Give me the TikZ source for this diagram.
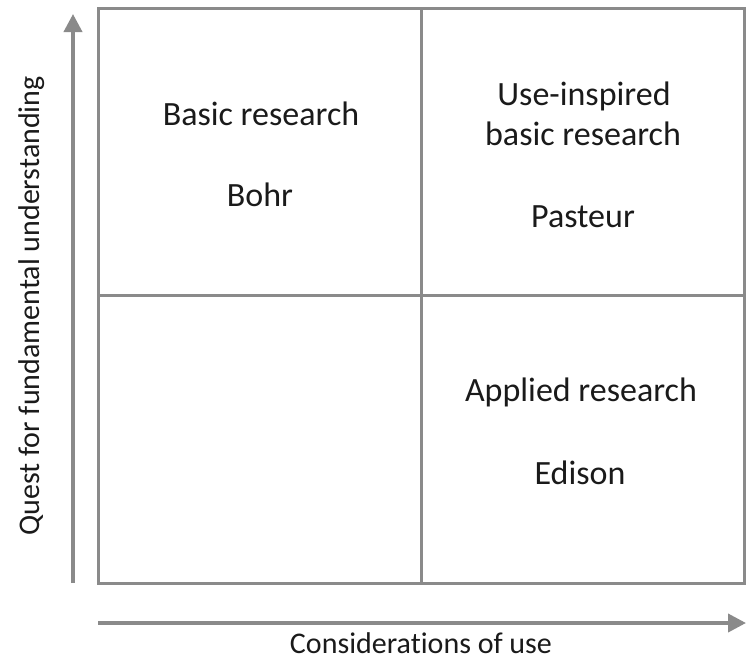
\documentclass[tikz,border=0pt]{standalone}
\usepackage{fontspec}
\setmainfont{Carlito}[Ligatures=NoCommon]
\usetikzlibrary{arrows.meta}
\definecolor{gridgray}{HTML}{8A8A8A}
\definecolor{txt}{HTML}{1A1A1A}
\begin{document}
\begin{tikzpicture}[x=1pt,y=-1pt,
  frame/.style={draw=gridgray,line width=3pt},
  axis/.style={draw=gridgray,line width=3.8pt,-{Triangle[length=18pt,width=18pt]}},
  lbl/.style={text=txt,font=\fontsize{34}{40}\selectfont,inner sep=0pt,anchor=base,align=center},
  axlbl/.style={text=txt,font=\fontsize{30}{36}\selectfont,inner sep=0pt,anchor=base}]
\useasboundingbox (0,0) rectangle (747,659);
% quadrant frame
\coordinate (tl) at (98,8);
\coordinate (br) at (744,583);
\coordinate (mt) at (421.5,8);
\coordinate (mb) at (421.5,583);
\coordinate (ml) at (98,295);
\coordinate (mr) at (744,295);
\draw[frame] (tl) rectangle (br);
\draw[frame] (mt) -- (mb);
\draw[frame] (ml) -- (mr);
% axes
\coordinate (vs) at (73,583);
\coordinate (ve) at (73,14);
\coordinate (hs) at (98,623);
\coordinate (he) at (746,623);
\draw[axis] (vs) -- (ve);
\draw[axis] (hs) -- (he);
% quadrant texts
\node[lbl] (basic) at (261,125) {Basic research};
\node[lbl] (bohr) at (260,206) {Bohr};
\node[lbl] (use1) at (584,105) {Use-inspired};
\node[lbl] (use2) at (583,145) {basic research};
\node[lbl] (pasteur) at (583,227) {Pasteur};
\node[lbl] (applied) at (581,401) {Applied research};
\node[lbl] (edison) at (580,484) {Edison};
% axis labels
\node[axlbl] (xlab) at (421,653) {Considerations of use};
\node[axlbl,rotate=90] (ylab) at (39,306) {Quest for fundamental understanding};
\end{tikzpicture}
\end{document}
